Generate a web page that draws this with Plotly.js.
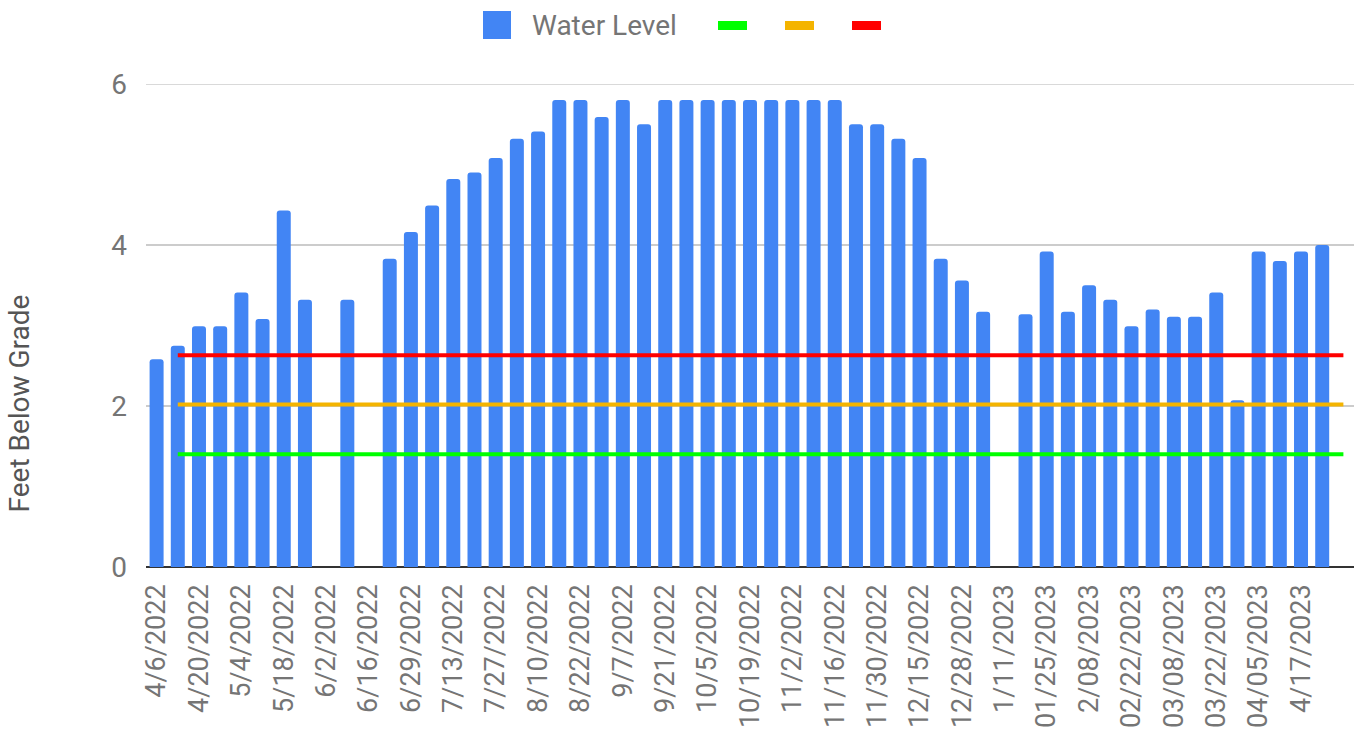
<!DOCTYPE html>
<html>
<head>
<meta charset="utf-8">
<script src="https://cdn.plot.ly/plotly-3.0.1.min.js"></script>
<style>
  html, body { margin: 0; padding: 0; background: #ffffff; }
  #chart { width: 1372px; height: 738px; }
</style>
</head>
<body>
<div id="chart"></div>
<script>
// ---- Data ----
// Tick labels: one label on every second category
const dateLabels = [
  "4/6/2022", "4/20/2022", "5/4/2022", "5/18/2022", "6/2/2022", "6/16/2022",
  "6/29/2022", "7/13/2022", "7/27/2022", "8/10/2022", "8/22/2022", "9/7/2022",
  "9/21/2022", "10/5/2022", "10/19/2022", "11/2/2022", "11/16/2022", "11/30/2022",
  "12/15/2022", "12/28/2022", "1/11/2023", "01/25/2023", "2/08/2023", "02/22/2023",
  "03/08/2023", "03/22/2023", "04/05/2023", "4/17/2023"
];

// Water level (feet below grade) per category; null = no reading
const waterLevel = [
  2.58, 2.75, 2.99, 2.99, 3.41, 3.08, 4.43, 3.32, null, 3.32,
  null, 3.83, 4.16, 4.49, 4.82, 4.90, 5.08, 5.32, 5.41, 5.80,
  5.80, 5.59, 5.80, 5.50, 5.80, 5.80, 5.80, 5.80, 5.80, 5.80,
  5.80, 5.80, 5.80, 5.50, 5.50, 5.32, 5.08, 3.83, 3.56, 3.17,
  null, 3.14, 3.92, 3.17, 3.50, 3.32, 2.99, 3.20, 3.11, 3.11,
  3.41, 2.07, 3.92, 3.80, 3.92, 4.00, null
];

// Threshold lines (constant levels) and the categories they span
const greenLevel = 1.40;
const orangeLevel = 2.02;
const redLevel = 2.63;
const thresholdSpan = [1, 56];

const seriesName = "Water Level";
const yAxisTitle = "Feet Below Grade";
const yTicks = [0, 2, 4, 6];

// ---- Layout helpers ----
const W = 1372, H = 738;
const M = { l: 146, r: 18, t: 84, b: 171 };
const PW = W - M.l - M.r, PH = H - M.t - M.b;
const px = x => (x - M.l) / PW;          // pixel -> paper x
const py = y => 1 - (y - M.t) / PH;      // pixel -> paper y

const categoryIndex = waterLevel.map((_, i) => i);
const tickPositions = dateLabels.map((_, i) => i * 2);

const FONT = "Roboto, 'Noto Sans', Arial, sans-serif";
const BLUE = "#4285F4", GREEN = "#00FF00", ORANGE = "#F4B400", RED = "#FF0000";

const traces = [
  {
    type: "bar",
    name: seriesName,
    x: categoryIndex,
    y: waterLevel,
    marker: { color: BLUE, cornerradius: 3 },
    showlegend: false,
    hoverinfo: "y"
  },
  {
    type: "scatter", mode: "lines", name: "",
    x: thresholdSpan, y: thresholdSpan.map(() => greenLevel),
    line: { color: GREEN, width: 4 }, showlegend: false, hoverinfo: "skip"
  },
  {
    type: "scatter", mode: "lines", name: "",
    x: thresholdSpan, y: thresholdSpan.map(() => orangeLevel),
    line: { color: ORANGE, width: 4 }, showlegend: false, hoverinfo: "skip"
  },
  {
    type: "scatter", mode: "lines", name: "",
    x: thresholdSpan, y: thresholdSpan.map(() => redLevel),
    line: { color: RED, width: 4 }, showlegend: false, hoverinfo: "skip"
  }
];

const legendBox = (x0, x1, y0, y1, color) => ({
  type: "rect", xref: "paper", yref: "paper",
  x0: px(x0), x1: px(x1), y0: py(y1), y1: py(y0),
  fillcolor: color, line: { width: 0 }
});

const topGrid = {
  type: "line", xref: "paper", yref: "y",
  x0: 0, x1: 1, y0: yTicks[yTicks.length - 1], y1: yTicks[yTicks.length - 1],
  line: { color: "#cccccc", width: 1.5 }, layer: "below"
};

const layout = {
  width: W, height: H,
  margin: M,
  paper_bgcolor: "#ffffff",
  plot_bgcolor: "#ffffff",
  font: { family: FONT, size: 28, color: "#757575" },
  bargap: 0.34,
  showlegend: false,
  xaxis: {
    range: [-0.5, waterLevel.length - 0.5],
    tickmode: "array",
    tickvals: tickPositions,
    ticktext: dateLabels,
    tickangle: -90,
    ticks: "",
    ticklabelstandoff: 11,
    showgrid: false,
    zeroline: false,
    showline: false,
    tickfont: { family: FONT, size: 27, color: "#757575" },
    fixedrange: true
  },
  yaxis: {
    range: [0, 6],
    tickmode: "array",
    tickvals: yTicks,
    ticks: "",
    ticklabelstandoff: 18,
    showgrid: true,
    gridcolor: "#cccccc",
    gridwidth: 1.5,
    zeroline: true,
    zerolinecolor: "#333333",
    zerolinewidth: 2,
    showline: false,
    tickfont: { family: FONT, size: 28, color: "#757575" },
    fixedrange: true
  },
  shapes: [
    topGrid,
    legendBox(483, 511, 11, 39, BLUE),
    legendBox(718, 747, 21, 30, GREEN),
    legendBox(785, 814, 21, 30, ORANGE),
    legendBox(852, 881, 21, 30, RED)
  ],
  annotations: [
    {
      text: seriesName, xref: "paper", yref: "paper",
      x: px(530), y: py(25), xanchor: "left", yanchor: "middle",
      showarrow: false, font: { family: FONT, size: 28, color: "#757575" }
    },
    {
      text: yAxisTitle, xref: "paper", yref: "paper",
      x: px(18.5), y: py(404), xanchor: "center", yanchor: "middle",
      textangle: -90, showarrow: false,
      font: { family: FONT, size: 28, color: "#555555" }
    }
  ]
};

Plotly.newPlot("chart", traces, layout, { displayModeBar: false, staticPlot: true });
</script>
</body>
</html>
